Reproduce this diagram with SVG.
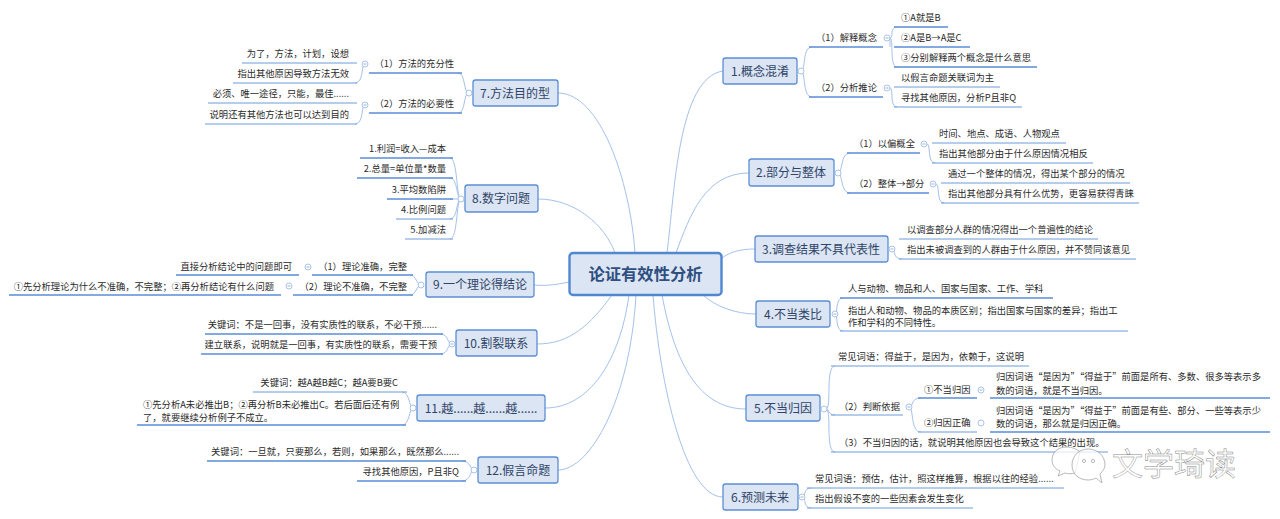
<svg xmlns="http://www.w3.org/2000/svg" width="1280" height="519" viewBox="0 0 1280 519">
<style>
text{font-family:"Noto Sans CJK SC","Liberation Sans",sans-serif;font-size:9.3px;fill:#2a2a2a}
.e{text-anchor:end}
.r{font-size:16.3px;font-weight:700;fill:#2f4f80;text-anchor:middle}
.t{font-size:12px;fill:#2f4468;text-anchor:middle}
.b{fill:#dbe5f3;stroke:#5b8fd4;stroke-width:1.3}
.rb{fill:#dbe5f3;stroke:#5088d0;stroke-width:2.4}
.u{fill:none;stroke:#5a8ed6;stroke-width:1.5}
.v{fill:none;stroke:#6d9bdc;stroke-width:1}
.c{fill:none;stroke:#a4c2ea;stroke-width:1}
.o{fill:#fff;stroke:#a9c4e8;stroke-width:1}
.m{stroke:#7f9fd0;stroke-width:.8}
.w{font-size:31px;fill:#fff;stroke:#8a8a8a;stroke-width:.5}
.wl{fill:#fff;fill-opacity:.75;stroke:#999;stroke-width:.7}
</style>
<defs>
<g id="tg"><circle class="o" r="3"/><path class="m" d="M-1.5 0H1.5"/></g>
<g id="to"><circle class="o" r="3"/></g>
</defs>
<rect width="1280" height="519" fill="#fff"/>
<g id="connectors">
<path class="c" d="M667 253C675 190 678 78 723 71"/>
<path class="c" d="M676 253C690 215 705 173 749 173"/>
<path class="c" d="M722 258C730 252 740 249 755 249"/>
<path class="c" d="M703 295C715 306 735 314 756 314"/>
<path class="c" d="M662 295C675 365 700 409 746 409"/>
<path class="c" d="M653 295C660 385 685 497 723 497"/>
<path class="c" d="M635 253C630 180 600 93 558 93"/>
<path class="c" d="M615 253C605 225 575 199 538 199"/>
<path class="c" d="M534 285C545 286 555 285 569 282"/>
<path class="c" d="M612 295C590 325 570 344 537 344"/>
<path class="c" d="M629 295C620 360 590 408 545 408"/>
<path class="c" d="M636 295C630 400 590 470 558 470"/>
<path class="c" d="M801 71C806 71 802 47 812 47M801 71C806 71 802 97 812 97"/>
<path class="c" d="M890 38C894 38 889 27 897 27M890 38V47M890 38C894 38 889 67 897 67"/>
<path class="c" d="M890 88C894 88 889 107 897 107"/>
<path class="c" d="M838 173C843 173 840 153 850 153M838 173C843 173 840 193 850 193"/>
<path class="c" d="M927 144C931 144 927 163 935 163"/>
<path class="c" d="M936 184C940 184 936 203 944 203"/>
<path class="c" d="M892 249C896 249 892 259 902 259"/>
<path class="c" d="M835 314C838 314 835 298 843 298M835 314C838 314 835 331 843 331"/>
<path class="c" d="M826 409C832 409 825 366 835 366M826 409C829 409 828 415 835 415M826 409C832 409 825 452 835 452"/>
<path class="c" d="M909 407C914 407 910 398 921 398M909 407C914 407 910 432 921 432"/>
<path class="c" d="M802 497C806 497 803 488 811 488M802 497C806 497 803 508 811 508"/>
<path class="c" d="M469 93C463 93 466 73 458 73M469 93C463 93 466 113 458 113"/>
<path class="c" d="M365 64C361 64 364 83 355 83M365 105C361 105 364 124 355 124"/>
<path class="c" d="M461 199C456 199 458 158 450 158M461 199C456 199 458 178 450 178M461 199H450M461 199C456 199 458 219 450 219M461 199C456 199 458 239 450 239"/>
<path class="c" d="M421 285C417 285 416 275 410 275M421 285C417 285 416 295 410 295"/>
<path class="c" d="M452 344C447 344 449 334 440 334M452 344C447 344 449 354 440 354"/>
<path class="c" d="M413 408C409 408 410 392 402 392M413 408C409 408 410 425 402 425"/>
<path class="c" d="M474 470C470 470 471 461 462 461M474 470C470 470 471 481 462 481"/>
</g>
<g id="root"><rect class="rb" x="569.5" y="253" width="152" height="42" rx="3.5"/><text class="r" x="645.5" y="280">论证有效性分析</text></g>
<g id="n1"><rect class="b" x="723" y="58" width="74" height="26" rx="2.5"/><text class="t" x="760" y="76">1.概念混淆</text><use href="#to" x="801" y="71"/>
<g id="n1-1"><text x="816" y="41">（1）解释概念</text><path class="u" d="M809 47H883"/><use href="#tg" x="887" y="38"/></g>
<g id="n1-1-1"><text x="901" y="21">①A就是B</text><path class="u" d="M894 27H948"/></g>
<g id="n1-1-2"><text x="901" y="41">②A是B→A是C</text><path class="u" d="M894 47H970"/></g>
<g id="n1-1-3"><text x="901" y="61">③分别解释两个概念是什么意思</text><path class="u" d="M894 67H1037"/></g>
<g id="n1-2"><text x="816" y="91">（2）分析推论</text><path class="u" d="M809 97H883"/><use href="#tg" x="887" y="88"/></g>
<g id="n1-2-1"><text x="901" y="81">以假言命题关联词为主</text><path class="v" d="M894 87H1000"/></g>
<g id="n1-2-2"><text x="901" y="101">寻找其他原因，分析P且非Q</text><path class="v" d="M894 107H1022"/></g>
</g>
<g id="n2"><rect class="b" x="749" y="159" width="85" height="27" rx="2.5"/><text class="t" x="791" y="177">2.部分与整体</text><use href="#to" x="838" y="173"/>
<g id="n2-1"><text x="854" y="147">（1）以偏概全</text><path class="u" d="M847 153H920"/><use href="#tg" x="924" y="144"/></g>
<g id="n2-1-1"><text x="939" y="137">时间、地点、成语、人物观点</text><path class="v" d="M932 143H1066"/></g>
<g id="n2-1-2"><text x="939" y="157">指出其他部分由于什么原因情况相反</text><path class="v" d="M932 163H1093"/></g>
<g id="n2-2"><text x="854" y="187">（2）整体→部分</text><path class="u" d="M847 193H929"/><use href="#tg" x="933" y="184"/></g>
<g id="n2-2-1"><text x="948" y="177">通过一个整体的情况，得出某个部分的情况</text><path class="v" d="M941 183H1130"/></g>
<g id="n2-2-2"><text x="948" y="197">指出其他部分具有什么优势，更容易获得青睐</text><path class="v" d="M941 203H1139"/></g>
</g>
<g id="n3"><rect class="b" x="755" y="236" width="133" height="26" rx="2.5"/><text class="t" x="821" y="254">3.调查结果不具代表性</text><use href="#tg" x="892" y="249"/>
<g id="n3-1"><text x="907" y="233">以调查部分人群的情况得出一个普遍性的结论</text><path class="v" d="M899 239H1098"/></g>
<g id="n3-2"><text x="907" y="253">指出未被调查到的人群由于什么原因，并不赞同该意见</text><path class="v" d="M899 259H1136"/></g>
</g>
<g id="n4"><rect class="b" x="756" y="301" width="74" height="26" rx="2.5"/><text class="t" x="793" y="319">4.不当类比</text><use href="#tg" x="835" y="314"/>
<g id="n4-1"><text x="848" y="292">人与动物、物品和人、国家与国家、工作、学科</text><path class="u" d="M840 298H1053"/></g>
<g id="n4-2"><text x="848" y="313.5">指出人和动物、物品的本质区别；指出国家与国家的差异；指出工</text><text x="848" y="326">作和学科的不同特性。</text><path class="v" d="M840 331H1128"/></g>
</g>
<g id="n5"><rect class="b" x="746" y="395" width="74" height="26" rx="2.5"/><text class="t" x="783" y="413">5.不当归因</text><use href="#to" x="824" y="409"/>
<g id="n5-1"><text x="838" y="360">常见词语：得益于，是因为，依赖于，这说明</text><path class="v" d="M831 366H1029"/></g>
<g id="n5-2"><text x="839" y="410">（2）判断依据</text><path class="v" d="M831 415H903"/><use href="#tg" x="909" y="407"/></g>
<g id="n5-2-1"><text x="924" y="393">①不当归因</text><path class="u" d="M918 398H977"/><use href="#tg" x="981" y="390"/></g>
<g id="n5-2-1-1"><text x="996" y="380">归因词语“是因为”“得益于”前面是所有、多数、很多等表示多</text><text x="996" y="394">数的词语，就是不当归因。</text><path class="u" d="M990 398H1270"/></g>
<g id="n5-2-2"><text x="924" y="426">②归因正确</text><path class="v" d="M918 432H977"/><use href="#to" x="981" y="423"/></g>
<g id="n5-2-2-1"><text x="996" y="414">归因词语“是因为”“得益于”前面是有些、部分、一些等表示少</text><text x="996" y="427">数的词语，那么就是归因正确。</text><path class="u" d="M990 432H1270"/></g>
<g id="n5-3"><text x="839" y="446">（3）不当归因的话，就说明其他原因也会导致这个结果的出现。</text><path class="v" d="M831 452H1108"/></g>
</g>
<g id="n6"><rect class="b" x="723" y="484" width="75" height="26" rx="2.5"/><text class="t" x="760" y="502">6.预测未来</text><use href="#tg" x="802" y="497"/>
<g id="n6-1"><text x="815" y="482">常见词语：预估，估计，照这样推算，根据以往的经验......</text><path class="v" d="M807 488H1064"/></g>
<g id="n6-2"><text x="815" y="502">指出假设不变的一些因素会发生变化</text><path class="v" d="M807 508H973"/></g>
</g>
<g id="n7"><rect class="b" x="473" y="80" width="85" height="26" rx="2.5"/><text class="t" x="515" y="98">7.方法目的型</text><use href="#to" x="469" y="93"/>
<g id="n7-1"><text class="e" x="454" y="67">（1）方法的充分性</text><path class="u" d="M369 73H462"/><use href="#tg" x="365" y="64"/></g>
<g id="n7-1-1"><text class="e" x="349" y="57">为了，方法，计划，设想</text><path class="v" d="M242 63H357"/></g>
<g id="n7-1-2"><text class="e" x="349" y="77">指出其他原因导致方法无效</text><path class="v" d="M233 83H357"/></g>
<g id="n7-2"><text class="e" x="454" y="107">（2）方法的必要性</text><path class="u" d="M369 113H462"/><use href="#tg" x="365" y="105"/></g>
<g id="n7-2-1"><text class="e" x="349" y="97">必须、唯一途径，只能，最佳......</text><path class="v" d="M208 103H357"/></g>
<g id="n7-2-2"><text class="e" x="349" y="118">说明还有其他方法也可以达到目的</text><path class="v" d="M205 124H357"/></g>
</g>
<g id="n8"><rect class="b" x="465" y="185" width="73" height="27" rx="2.5"/><text class="t" x="501" y="203">8.数字问题</text><use href="#to" x="461" y="199"/>
<g id="n8-1"><text class="e" x="446" y="152">1.利润=收入—成本</text><path class="u" d="M360 158H453"/></g>
<g id="n8-2"><text class="e" x="446" y="172">2.总量=单位量*数量</text><path class="u" d="M357 178H453"/></g>
<g id="n8-3"><text class="e" x="446" y="193">3.平均数陷阱</text><path class="u" d="M387 199H453"/></g>
<g id="n8-4"><text class="e" x="446" y="213">4.比例问题</text><path class="v" d="M396 219H453"/></g>
<g id="n8-5"><text class="e" x="446" y="233">5.加减法</text><path class="v" d="M405 239H453"/></g>
</g>
<g id="n9"><rect class="b" x="426" y="272" width="108" height="25" rx="2.5"/><text class="t" x="480" y="289">9.一个理论得结论</text><use href="#to" x="421" y="285"/>
<g id="n9-1"><text class="e" x="407" y="270">（1）理论准确，完整</text><path class="u" d="M312 275H413"/><use href="#tg" x="308" y="267"/></g>
<g id="n9-1-1"><text class="e" x="292" y="270">直接分析结论中的问题即可</text><path class="u" d="M176 275H299"/></g>
<g id="n9-2"><text class="e" x="407" y="290">（2）理论不准确，不完整</text><path class="u" d="M293 295H413"/><use href="#tg" x="289" y="286"/></g>
<g id="n9-2-1"><text class="e" x="274" y="290">①先分析理论为什么不准确，不完整；②再分析结论有什么问题</text><path class="u" d="M9 295H281"/></g>
</g>
<g id="n10"><rect class="b" x="456" y="330" width="81" height="26" rx="2.5"/><text class="t" x="496" y="348">10.割裂联系</text><use href="#tg" x="452" y="344"/>
<g id="n10-1"><text class="e" x="437" y="328">关键词：不是一回事，没有实质性的联系，不必干预......</text><path class="u" d="M205 334H443"/></g>
<g id="n10-2"><text class="e" x="437" y="348">建立联系，说明就是一回事，有实质性的联系，需要干预</text><path class="u" d="M201 354H443"/></g>
</g>
<g id="n11"><rect class="b" x="417" y="395" width="128" height="26" rx="2.5"/><text class="t" x="481" y="413">11.越......越......越......</text><use href="#to" x="413" y="408"/>
<g id="n11-1"><text class="e" x="398" y="386">关键词：越A越B越C；越A要B要C</text><path class="v" d="M253 392H407"/></g>
<g id="n11-2"><text x="143" y="407.5">①先分析A未必推出B；②再分析B未必推出C。若后面后还有例</text><text x="143" y="420.5">了，就要继续分析例子不成立。</text><path class="u" d="M137 425H406"/></g>
</g>
<g id="n12"><rect class="b" x="478" y="457" width="80" height="26" rx="2.5"/><text class="t" x="518" y="475">12.假言命题</text><use href="#to" x="474" y="470"/>
<g id="n12-1"><text class="e" x="459" y="455">关键词：一旦就，只要那么，若则，如果那么，既然那么......</text><path class="u" d="M207 461H466"/></g>
<g id="n12-2"><text class="e" x="459" y="475">寻找其他原因，P且非Q</text><path class="u" d="M357 481H466"/></g>
</g>
<g id="watermark">
<path class="wl" d="M1067 447C1057 447 1052 453 1052 460C1052 465 1055 469 1060 471L1058 476L1065 473C1068 474 1072 474 1075 473L1080 452C1077 449 1072 447 1067 447Z"/>
<path class="wl" d="M1088 449C1079 449 1072 456 1072 465C1072 474 1079 480 1088 480C1091 480 1094 479 1096 478L1102 483L1100 474C1103 471 1105 468 1105 465C1105 456 1098 449 1088 449Z"/>
<circle class="wl" cx="1084" cy="461" r="1.6"/><circle class="wl" cx="1093" cy="461" r="1.6"/>
<text class="w" x="1112" y="475">文学琦读</text>
</g>
</svg>
